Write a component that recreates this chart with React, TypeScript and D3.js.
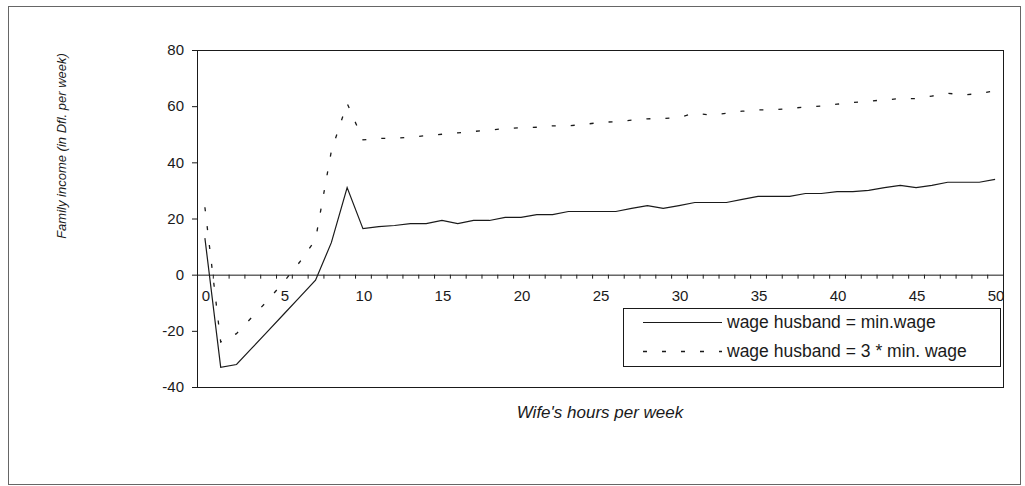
import React from "react";
import * as d3 from "d3";

const hours: number[] = Array.from({ length: 51 }, (_, i) => i);
const minWageSeries: number[] = [
  13, -33, -32, -26, -20, -14, -8, -2, 11.4, 31,
  16.4, 17.1, 17.5, 18.2, 18.2, 19.3, 18.2, 19.3, 19.3, 20.4,
  20.4, 21.4, 21.4, 22.5, 22.5, 22.5, 22.5, 23.6, 24.6, 23.6,
  24.6, 25.7, 25.7, 25.7, 26.8, 27.9, 27.9, 27.9, 28.9, 28.9,
  29.6, 29.6, 30, 31, 31.8, 31, 31.8, 32.9, 32.9, 32.9,
  33.9,
];
const threeMinWageSeries: number[] = [
  24, -24, -21, -15, -9, -2.5, 4.5, 12.5, 44, 61,
  48, 48.5, 48.5, 49, 49.5, 50, 50.5, 51, 51.5, 52,
  52.3, 52.5, 53, 53, 53.5, 54.2, 54.5, 55, 55.5, 55.6,
  56, 57.5, 56.8, 57.5, 58.2, 58.7, 58.7, 59.2, 59.7, 60,
  60.7, 61.3, 61.8, 62.2, 62.7, 62.7, 63.6, 64.6, 64, 64.5,
  65.5,
];
const yTicks: number[] = [-40, -20, 0, 20, 40, 60, 80];
const xTickLabels: number[] = [0, 5, 10, 15, 20, 25, 30, 35, 40, 45, 50];
const seriesNames: string[] = [
  "wage husband = min.wage",
  "wage husband = 3 * min. wage",
];
const xTitle = "Wife's hours per week";
const yTitle = "Family income (in Dfl. per week)";

export default function App() {
  const W = 1025;
  const H = 486;
  const left = 197;
  const right = 1003;
  const top = 50;
  const bottom = 387;

  const x = d3
    .scaleBand<number>()
    .domain(hours)
    .range([left, right])
    .paddingInner(0)
    .paddingOuter(0);
  const bw = x.bandwidth();
  const cx = (h: number) => (x(h) as number) + bw / 2;
  const y = d3.scaleLinear().domain([-40, 80]).range([bottom, top]);

  const line = d3
    .line<number>()
    .x((_, i) => cx(hours[i]))
    .y((d) => y(d));

  const font = "Arial, 'Liberation Sans', sans-serif";
  const ink = "#1a1a1a";
  const y0 = y(0);

  const boundaries = [...hours.map((h) => x(h) as number), right];

  return (
    <svg
      width={W}
      height={H}
      style={{ position: "absolute", left: 0, top: 0, background: "#fff" }}
      fontFamily={font}
    >
      {/* outer chart border */}
      <rect x={8.5} y={6.5} width={1012} height={478} fill="none" stroke="#666" strokeWidth={1} />

      {/* plot area box */}
      <rect
        x={left + 0.5}
        y={top + 0.5}
        width={right - left}
        height={bottom - top}
        fill="none"
        stroke={ink}
        strokeWidth={1}
      />

      {/* y ticks & labels */}
      {yTicks.map((t) => (
        <g key={"y" + t}>
          <line x1={left - 5} x2={left} y1={y(t) + 0.5} y2={y(t) + 0.5} stroke={ink} />
          <text x={left - 13} y={y(t)} dy="0.35em" textAnchor="end" fontSize={15} fill={ink}>
            {t}
          </text>
        </g>
      ))}

      {/* x axis at zero */}
      <line x1={left} x2={right} y1={y0 + 0.5} y2={y0 + 0.5} stroke={ink} />
      {boundaries.map((b, i) => (
        <line key={"xt" + i} x1={b + 0.5} x2={b + 0.5} y1={y0} y2={y0 + 4} stroke={ink} />
      ))}
      {xTickLabels.map((t) => (
        <text key={"xl" + t} x={cx(t) + 1} y={y0 + 21} dy="0.35em" textAnchor="middle" fontSize={15} fill={ink}>
          {t}
        </text>
      ))}

      {/* series */}
      <path d={line(minWageSeries) || ""} fill="none" stroke={ink} strokeWidth={1.2} />
      <path
        d={line(threeMinWageSeries) || ""}
        fill="none"
        stroke={ink}
        strokeWidth={1.3}
        strokeDasharray="4,15"
      />

      {/* legend */}
      <rect x={623.5} y={308.5} width={377} height={58} fill="#fff" stroke={ink} strokeWidth={1} />
      <line x1={643} x2={722} y1={322.5} y2={322.5} stroke={ink} strokeWidth={1.2} />
      <line x1={643} x2={722} y1={351.5} y2={351.5} stroke={ink} strokeWidth={1.3} strokeDasharray="4,15" />
      <text x={727} y={322} dy="0.35em" fontSize={17.5} fill={ink}>
        {seriesNames[0]}
      </text>
      <text x={727} y={351} dy="0.35em" fontSize={17.5} fill={ink}>
        {seriesNames[1]}
      </text>

      {/* axis titles */}
      <text x={600} y={412} dy="0.35em" textAnchor="middle" fontSize={17} fontStyle="italic" fill={ink}>
        {xTitle}
      </text>
      <text
        transform={`translate(61,146) rotate(-90)`}
        dy="0.35em"
        textAnchor="middle"
        fontSize={13}
        fontStyle="italic"
        fill={ink}
      >
        {yTitle}
      </text>
    </svg>
  );
}
